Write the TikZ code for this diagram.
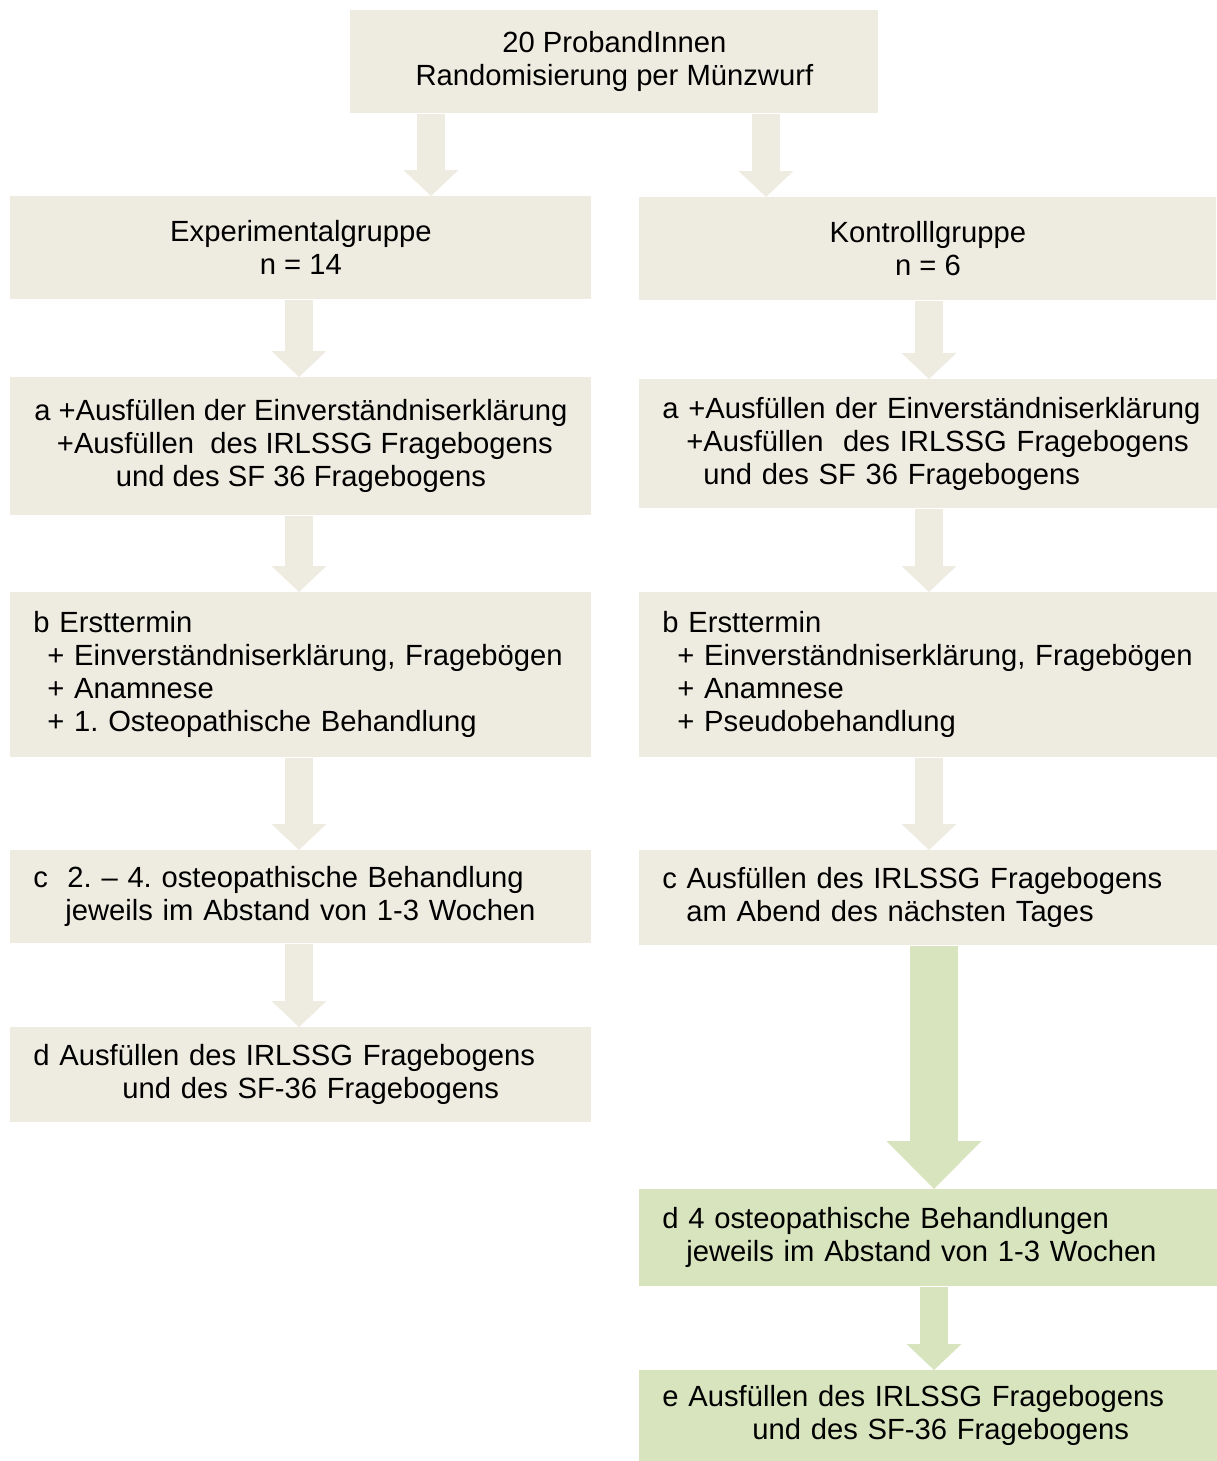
\documentclass[tikz,border=0pt]{standalone}
\usepackage{fontspec}
\setmainfont{Liberation Sans}
\usetikzlibrary{arrows.meta,calc}
\definecolor{PaleTan}{HTML}{EEECE1}
\definecolor{PaleOlive}{HTML}{D7E4BD}
\frenchspacing

\begin{document}
\begin{tikzpicture}[x=0.5pt, y=-0.5pt,
  box/.style={fill=PaleTan, anchor=north west, inner xsep=11.5pt, inner ysep=0pt,
    font=\fontsize{14.6pt}{16.5pt}\selectfont},
  midbox/.style={box, align=center},
  lbox/.style={box, align=left, text width=267.5pt},
  rbox/.style={box, align=left, text width=270pt},
  flow/.style={line width=14pt, draw=PaleTan,
    -{Triangle[width=27.5pt, length=13pt, line width=0pt]}},
  bigflow/.style={line width=24pt, draw=PaleOlive,
    -{Triangle[width=47.5pt, length=24pt, line width=0pt]}}]
  \useasboundingbox (0,0) rectangle (1216,1461);

  % top and the two groups
  \node[midbox, minimum width=264pt, minimum height=51.5pt] (top) at (350,10)
    {20 ProbandInnen\\Randomisierung per Münzwurf};
  \node[midbox, minimum width=290.5pt, minimum height=51.5pt] (exp) at (10,196)
    {Experimentalgruppe\\n = 14};
  \node[midbox, minimum width=288.5pt, minimum height=51.5pt] (kon) at (639,197)
    {Kontrolllgruppe\\n = 6};

  % left column
  \node[midbox, minimum width=290.5pt, minimum height=69pt] (la) at (10,377)
    {a +Ausfüllen der Einverständniserklärung\\
     \hspace*{4pt}+Ausfüllen\ \ des IRLSSG Fragebogens\\
     und des SF 36 Fragebogens};
  \node[lbox, minimum height=82.5pt] (lb) at (10,592)
    {b Ersttermin\\
     \hspace*{7pt}+ Einverständniserklärung, Fragebögen\\
     \hspace*{7pt}+ Anamnese\\
     \hspace*{7pt}+ 1. Osteopathische Behandlung};
  \node[lbox, minimum height=46.5pt] (lc) at (10,850)
    {c\ \ 2. – 4. osteopathische Behandlung\\
     \hspace*{16pt}jeweils im Abstand von 1-3 Wochen};
  \node[lbox, minimum height=47.5pt] (ld) at (10,1027)
    {d Ausfüllen des IRLSSG Fragebogens\\
     \hspace*{44.5pt}und des SF-36 Fragebogens};

  % right column
  \node[rbox, minimum height=64.5pt] (ra) at (639,379)
    {a +Ausfüllen der Einverständniserklärung\\
     \hspace*{12pt}+Ausfüllen\ \ des IRLSSG Fragebogens\\
     \hspace*{20.5pt}und des SF 36 Fragebogens};
  \node[rbox, minimum height=82.5pt] (rb) at (639,592)
    {b Ersttermin\\
     \hspace*{7.5pt}+ Einverständniserklärung, Fragebögen\\
     \hspace*{7.5pt}+ Anamnese\\
     \hspace*{7.5pt}+ Pseudobehandlung};
  \node[rbox, minimum height=47.5pt] (rc) at (639,850)
    {c Ausfüllen des IRLSSG Fragebogens\\
     \hspace*{12pt}am Abend des nächsten Tages};
  \node[rbox, fill=PaleOlive, minimum height=48.5pt] (rd) at (639,1189)
    {d 4 osteopathische Behandlungen\\
     \hspace*{12pt}jeweils im Abstand von 1-3 Wochen};
  \node[rbox, fill=PaleOlive, minimum height=45.5pt] (re) at (639,1370)
    {e Ausfüllen des IRLSSG Fragebogens\\
     \hspace*{45pt}und des SF-36 Fragebogens};

  % arrows
  \coordinate (sx1) at (431,0);
  \coordinate (sx2) at (766,0);
  \coordinate (lx) at (299,0);
  \coordinate (rx) at (929,0);
  \coordinate (gx) at (934,0);
  \draw[flow] (top.south -| sx1) -- (exp.north -| sx1);
  \draw[flow] (top.south -| sx2) -- (kon.north -| sx2);
  \draw[flow] (exp.south -| lx) -- (la.north -| lx);
  \draw[flow] (la.south -| lx) -- (lb.north -| lx);
  \draw[flow] (lb.south -| lx) -- (lc.north -| lx);
  \draw[flow] (lc.south -| lx) -- (ld.north -| lx);
  \draw[flow] (kon.south -| rx) -- (ra.north -| rx);
  \draw[flow] (ra.south -| rx) -- (rb.north -| rx);
  \draw[flow] (rb.south -| rx) -- (rc.north -| rx);
  \draw[bigflow] (rc.south -| gx) -- (rd.north -| gx);
  \draw[flow, draw=PaleOlive] (rd.south -| gx) -- (re.north -| gx);
\end{tikzpicture}
\end{document}
